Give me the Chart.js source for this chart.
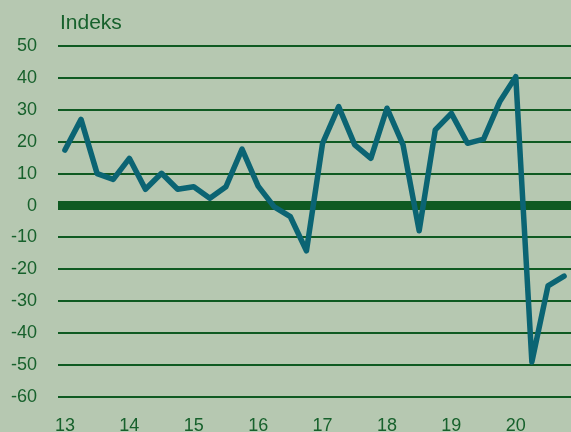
<!DOCTYPE html>
<html><head><meta charset="utf-8">
<script src="https://cdn.jsdelivr.net/npm/chart.js@4/dist/chart.umd.min.js"></script>
<style>html,body{margin:0;padding:0;background:#b6c8b1;}#wrap{width:571px;height:432px;position:relative;}</style>
</head><body><div id="wrap"><canvas id="c" width="571" height="432"></canvas></div>
<script>
const quarters = ["13K1","13K2","13K3","13K4","14K1","14K2","14K3","14K4","15K1","15K2","15K3","15K4","16K1","16K2","16K3","16K4","17K1","17K2","17K3","17K4","18K1","18K2","18K3","18K4","19K1","19K2","19K3","19K4","20K1","20K2","20K3","20K4"];
const indeksValues = [17.4,27,10,8.2, 14.8,5.1,10.1,5.1, 5.9,2.3,5.9,17.7, 6.1,-0.4,-3.5,-14.2, 19.5,31,19,14.8, 30.5,19,-7.9,23.7, 28.9,19.5,20.8,32.5, 40.4,-49,-25.2,-22.1];
const yearLabels = ["13","14","15","16","17","18","19","20"];
const yTicks = [50,40,30,20,10,0,-10,-20,-30,-40,-50,-60];
const unitLabel = "Indeks";

const textColor = '#17612c';
const gridColor = '#0f5a22';
const pts = indeksValues.map((v,i)=>({x:i,y:v}));

const titlePlugin = {
  id:'titleText',
  afterDraw(chart){
    const ctx = chart.ctx;
    ctx.save();
    ctx.fillStyle = textColor;
    ctx.font = '21px "Liberation Sans", Arial, sans-serif';
    ctx.textBaseline = 'alphabetic';
    ctx.textAlign = 'left';
    ctx.fillText(unitLabel, 60, 29);
    ctx.restore();
  }
};

new Chart(document.getElementById('c'), {
  type:'line',
  data:{ datasets:[{ data:pts, borderColor:'#0b6473', borderWidth:5.5, pointRadius:0, tension:0, fill:false, borderJoinStyle:'round', borderCapStyle:'round' }]},
  options:{
    responsive:false, animation:false,
    layout:{ padding:{ top:46, left:0, right:0, bottom:0 } },
    plugins:{ legend:{display:false}, tooltip:{enabled:false} },
    scales:{
      x:{ type:'linear', min:-0.43, max:31.43,
        afterBuildTicks(s){ s.ticks = yearLabels.map((_,i)=>({value:i*4})); },
        afterFit(s){ s.height = 35; },
        grid:{ display:false, drawTicks:false }, border:{display:false},
        ticks:{ color:textColor, font:{ family:'"Liberation Sans", Arial, sans-serif', size:18 }, padding:18, maxRotation:0, autoSkip:false,
          callback(v){ return yearLabels[Math.round(v/4)]; } }
      },
      y:{ min:-60, max:50,
        afterBuildTicks(s){ s.ticks = yTicks.map(v=>({value:v})); },
        afterFit(s){ s.width = 58; },
        grid:{ color:gridColor, lineWidth:(c)=> c.tick && c.tick.value===0 ? 9 : 2, drawTicks:false },
        border:{display:false},
        ticks:{ color:textColor, font:{ family:'"Liberation Sans", Arial, sans-serif', size:18 }, padding:21 }
      }
    }
  },
  plugins:[titlePlugin]
});
</script></body></html>
